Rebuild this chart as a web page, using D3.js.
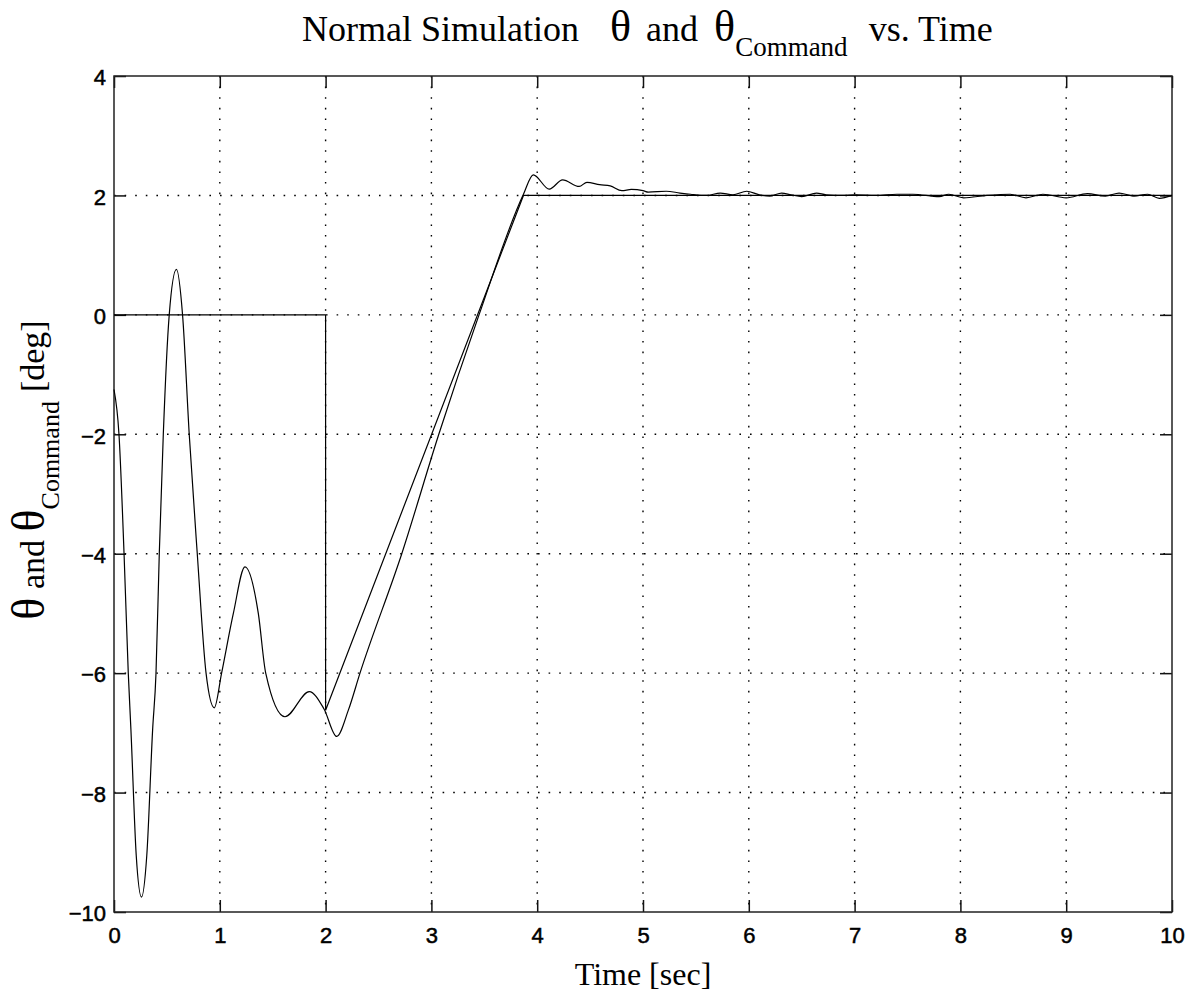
<!DOCTYPE html>
<html>
<head>
<meta charset="utf-8">
<style>
    body { margin: 0; background: #fff; }
    svg { display: block; }
    .tick-label { font-family: "Liberation Sans", Arial, sans-serif; font-size: 22px; fill: #000; stroke: #000; stroke-width: 0.5px; }
    .serif { font-family: "Liberation Serif", "Times New Roman", serif; fill: #000; }
    .grid line { stroke: #000; stroke-width: 1.4; stroke-dasharray: 1.6, 9; }
</style>
</head>
<body>
<svg width="1197" height="998"></svg>
<script src="https://d3js.org/d3.v7.min.js"></script>
<script>
    // values
    let xTicks = [0, 1, 2, 3, 4, 5, 6, 7, 8, 9, 10];
    let yTicks = [-10, -8, -6, -4, -2, 0, 2, 4];

    let cmdTime = [0, 2, 2, 3.87, 10];
    let cmdValue = [0, 0, -6.62, 2.0, 2.0];

    let thetaTime = [0, 0.047, 0.095, 0.135, 0.16, 0.21, 0.26, 0.31, 0.365, 0.397, 0.428, 0.466, 0.522, 0.59,
        0.648, 0.711, 0.787, 0.87, 0.948, 1.017, 1.128, 1.238, 1.364, 1.434, 1.616, 1.846, 1.985, 2.105,
        2.215, 2.325, 2.72, 3.07, 3.45, 3.87, 3.963, 4.114, 4.24, 4.397, 4.47, 4.59, 4.69, 4.8, 4.89, 5.0,
        5.05, 5.22, 5.35, 5.45, 5.6, 5.73, 5.85, 5.98, 6.1, 6.2, 6.31, 6.4, 6.5, 6.64, 6.73, 6.9, 7.0, 7.2,
        7.4, 7.55, 7.8, 7.89, 8.03, 8.25, 8.47, 8.62, 8.78, 9.0, 9.2, 9.37, 9.5, 9.64, 9.77, 9.88, 10];
    let thetaValue = [-1.25, -2.0, -4.0, -6.0, -6.95, -9.05, -9.75, -9.05, -6.95, -6.0, -4.0, -2.0, 0, 0.76,
        0, -2.0, -4.0, -6.0, -6.58, -6.0, -5.0, -4.22, -5.0, -6.0, -6.73, -6.31, -6.6, -7.06,
        -6.62, -6.0, -4.0, -2.0, 0, 2.02, 2.345, 2.105, 2.26, 2.15, 2.22, 2.18, 2.16, 2.08, 2.1, 2.08,
        2.055, 2.07, 2.04, 2.02, 2.0, 2.04, 2.01, 2.07, 2.01, 1.99, 2.04, 2.01, 1.98, 2.04, 2.01, 2.0, 2.01, 2.0,
        2.02, 2.02, 1.98, 2.02, 1.96, 2.0, 2.02, 1.96, 2.02, 1.96, 2.03, 1.99, 2.04, 1.99, 2.02, 1.95, 2.0];

    let plotLeft = 114, plotRight = 1172, plotTop = 76, plotBottom = 912;

    let svg = d3.select("svg");

    let x = d3.scaleLinear().domain([0, 10]).range([plotLeft, plotRight]);
    let y = d3.scaleLinear().domain([-10, 4]).range([plotBottom, plotTop]);

    // dotted grid
    let grid = svg.append("g").attr("class", "grid");
    grid.selectAll(".gx")
        .data(xTicks.slice(1, -1))
        .join("line")
        .attr("x1", d => x(d)).attr("x2", d => x(d))
        .attr("y1", plotTop).attr("y2", plotBottom);
    grid.selectAll(".gy")
        .data(yTicks.slice(1, -1))
        .join("line")
        .attr("x1", plotLeft).attr("x2", plotRight)
        .attr("y1", d => y(d)).attr("y2", d => y(d));

    // axes with inward ticks on all four sides
    let tickLen = 12;
    let xBottom = svg.append("g")
        .attr("transform", `translate(0, ${plotBottom})`)
        .call(d3.axisBottom(x).tickValues(xTicks).tickSize(-tickLen).tickPadding(15).tickFormat(d3.format("d")));
    let xTop = svg.append("g")
        .attr("transform", `translate(0, ${plotTop})`)
        .call(d3.axisTop(x).tickValues(xTicks).tickSize(-tickLen).tickFormat(""));
    let yLeft = svg.append("g")
        .attr("transform", `translate(${plotLeft}, 0)`)
        .call(d3.axisLeft(y).tickValues(yTicks).tickSize(-tickLen).tickPadding(8)
            .tickFormat(d => d < 0 ? "\u2212" + Math.abs(d) : d));
    let yRight = svg.append("g")
        .attr("transform", `translate(${plotRight}, 0)`)
        .call(d3.axisRight(y).tickValues(yTicks).tickSize(-tickLen).tickFormat(""));

    [xBottom, xTop, yLeft, yRight].forEach(g => {
        g.select(".domain").remove();
        g.selectAll(".tick line").attr("stroke", "#111").attr("stroke-width", 1.5);
        g.selectAll(".tick text").attr("class", "tick-label").attr("fill", "#000");
    });
    yLeft.selectAll(".tick text").attr("dy", "0.4em");

    svg.append("rect")
        .attr("x", plotLeft).attr("y", plotTop)
        .attr("width", plotRight - plotLeft).attr("height", plotBottom - plotTop)
        .attr("fill", "none").attr("stroke", "#222").attr("stroke-width", 1.5);

    let cmdData = cmdTime.map((t, i) => ({ t: t, v: cmdValue[i] }));
    let thetaData = thetaTime.map((t, i) => ({ t: t, v: thetaValue[i] }));

    // command signal
    svg.append("path")
        .datum(cmdData)
        .attr("d", d3.line().x(d => x(d.t)).y(d => y(d.v)))
        .attr("fill", "none")
        .attr("stroke", "#000")
        .attr("stroke-width", 1.2);

    // theta response
    svg.append("path")
        .datum(thetaData)
        .attr("d", d3.line().curve(d3.curveMonotoneX).x(d => x(d.t)).y(d => y(d.v)))
        .attr("fill", "none")
        .attr("stroke", "#000")
        .attr("stroke-width", 1.2);

    // title
    let title = svg.append("text")
        .attr("class", "serif")
        .attr("x", 302)
        .attr("y", 41)
        .attr("font-size", 36);
    title.append("tspan").text("Normal Simulation");
    title.append("tspan").attr("dx", 31).attr("font-size", 44).text("\u03b8");
    title.append("tspan").attr("dx", 15).text("and");
    title.append("tspan").attr("dx", 16).attr("font-size", 44).text("\u03b8");
    title.append("tspan").attr("font-size", 27).attr("dy", 15).text("Command");
    title.append("tspan").attr("dx", 21).attr("dy", -15).text("vs. Time");

    // x label
    svg.append("text")
        .attr("class", "serif")
        .attr("x", (plotLeft + plotRight) / 2)
        .attr("y", 985)
        .attr("text-anchor", "middle")
        .attr("font-size", 32)
        .text("Time [sec]");

    // y label
    let ylab = svg.append("text")
        .attr("class", "serif")
        .attr("transform", "translate(44, 470) rotate(-90)")
        .attr("text-anchor", "middle")
        .attr("font-size", 34);
    ylab.append("tspan").attr("font-size", 46).text("\u03b8");
    ylab.append("tspan").text(" and ");
    ylab.append("tspan").attr("font-size", 46).text("\u03b8");
    ylab.append("tspan").attr("font-size", 26).attr("dy", 15).text("Command");
    ylab.append("tspan").attr("dx", 9).attr("dy", -15).text("[deg]");
</script>
</body>
</html>
